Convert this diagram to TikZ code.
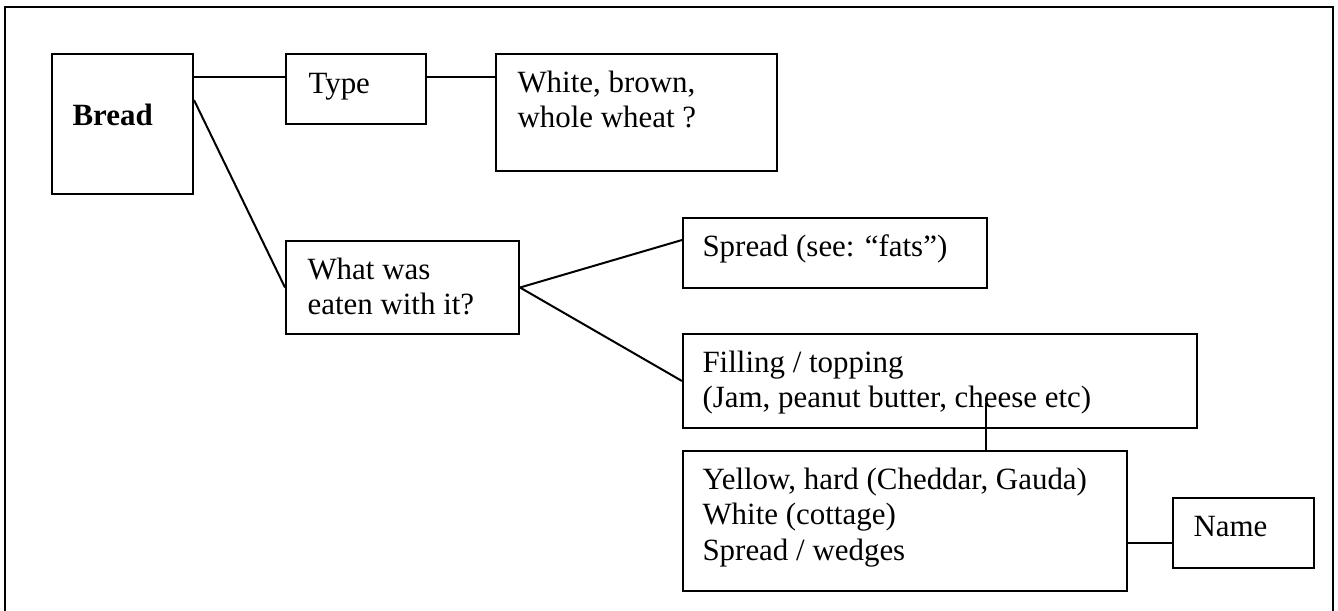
\documentclass[tikz,border=0pt]{standalone}
\usepackage{fontspec}
\setmainfont{Liberation Serif}
\tikzset{
  box/.style 2 args={draw, line width=0.75pt, inner sep=0pt, anchor=north west,
    minimum width=#1*0.375pt, minimum height=#2*0.375pt},
  txt/.style={anchor=north west, inner sep=0pt, align=left,
    font=\fontsize{11.6}{13.3}\selectfont},
  link/.style={line width=0.75pt}
}
\newcommand{\topline}{\rule{0pt}{10pt}}

\begin{document}
\begin{tikzpicture}[x=0.375pt,y=0.375pt,yscale=-1,xscale=1]
\useasboundingbox (0,0) rectangle (1338,610);

%Shape: Frame
\draw [line width=1.1pt] (5,612) -- (5,7) -- (1333,7) -- (1333,612) ;

%Shape: Rectangle
\node [box={141}{140}] (bread) at (51,53) {};
%Shape: Rectangle
\node [box={140}{70}] (type) at (285,53) {};
%Shape: Rectangle
\node [box={281}{117}] (white) at (495,53) {};
%Shape: Rectangle
\node [box={233}{93}] (what) at (285,240) {};
%Shape: Rectangle
\node [box={304}{70}] (spread) at (682,217) {};
%Shape: Rectangle
\node [box={514}{94}] (filling) at (682,333) {};
%Shape: Rectangle
\node [box={444}{140}] (yellow) at (682,450) {};
%Shape: Rectangle
\node [box={141}{70}] (name) at (1172,497) {};

%Straight Lines
\draw [link] ([shift={(0,24)}]bread.north east) -- ([shift={(0,24)}]type.north west) ;
%Straight Lines
\draw [link] ([shift={(0,24)}]type.north east) -- ([shift={(0,24)}]white.north west) ;
%Straight Lines
\draw [link] ([shift={(0,47)}]bread.north east) -- (what.west) ;
%Straight Lines
\draw [link] (what.east) -- ([shift={(0,23)}]spread.north west) ;
%Straight Lines
\draw [link] (what.east) -- (filling.west) ;
%Straight Lines
\draw [link] ([shift={(304,70)}]filling.north west) -- ([shift={(304,0)}]yellow.north west) ;
%Straight Lines
\draw [link] ([shift={(0,93)}]yellow.north east) -- ([shift={(0,46)}]name.north west) ;

% Text Node
\node [txt] (breadtxt) at ([shift={(21,45)}]bread.north west) {\topline\textbf{Bread}};
% Text Node
\node [txt] (typetxt) at ([shift={(23,13)}]type.north west) {\topline Type};
% Text Node
\node [txt] (whitetxt) at ([shift={(22,12)}]white.north west) {\topline White, brown,\\ whole wheat ?};
% Text Node
\node [txt] (whattxt) at ([shift={(22,12)}]what.north west) {\topline What was\\ eaten with it?};
% Text Node
\node [txt] (spreadtxt) at ([shift={(20,12)}]spread.north west) {\topline Spread (see: “fats”)};
% Text Node
\node [txt] (fillingtxt) at ([shift={(20,12)}]filling.north west) {\topline Filling / topping\\ (Jam, peanut butter, cheese etc)};
% Text Node
\node [txt] (yellowtxt) at ([shift={(20,12)}]yellow.north west) {\topline Yellow, hard (Cheddar, Gauda)\\ White (cottage)\\ Spread / wedges};
% Text Node
\node [txt] (nametxt) at ([shift={(21,12)}]name.north west) {\topline Name};

\end{tikzpicture}
\end{document}
